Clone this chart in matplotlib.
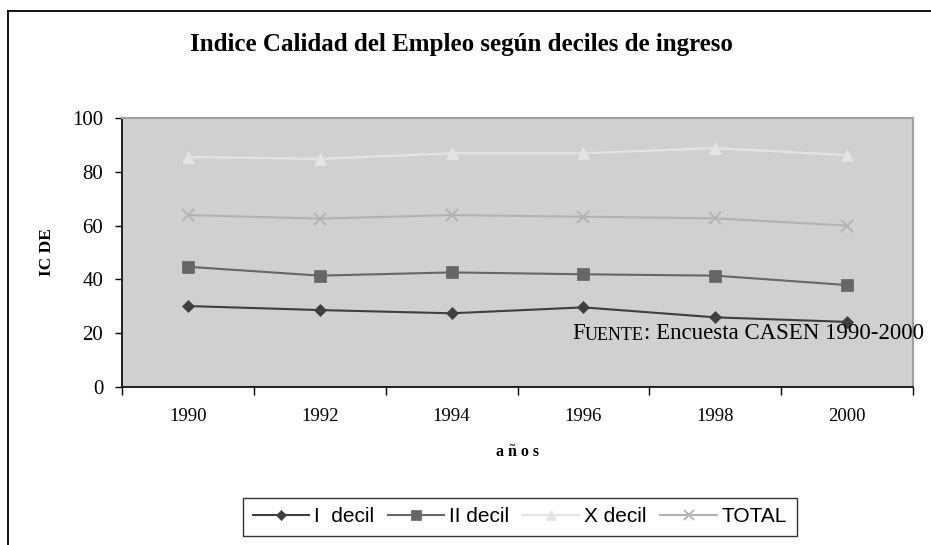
import matplotlib
matplotlib.use("Agg")
import matplotlib.pyplot as plt
from matplotlib.lines import Line2D

# === Data ===
years = ["1990", "1992", "1994", "1996", "1998", "2000"]
decil_1 = [30.1, 28.6, 27.4, 29.6, 25.9, 24.2]
decil_2 = [44.7, 41.4, 42.6, 41.9, 41.4, 37.9]
decil_10 = [85.5, 84.8, 86.9, 86.9, 88.8, 86.2]
total = [63.9, 62.6, 63.9, 63.3, 62.7, 60.0]
series_names = ["I  decil", "II decil", "X decil", "TOTAL"]

serif = "Liberation Serif"
sans = "Liberation Sans"

fig = plt.figure(figsize=(9.31, 5.45), dpi=100)
fig.patch.set_facecolor("white")

# outer chart frame (only left and top edges fall inside the picture)
fig.add_artist(Line2D([8 / 931, 8 / 931], [0, 1 - 10.5 / 545], transform=fig.transFigure,
                      color="black", lw=1.3))
fig.add_artist(Line2D([8 / 931, 1], [1 - 10.5 / 545, 1 - 10.5 / 545], transform=fig.transFigure,
                      color="black", lw=1.3))

ax = fig.add_axes([122 / 931, 1 - 387 / 545, (913 - 122) / 931, (387 - 118) / 545])
ax.set_facecolor("#d0d0d0")

x = list(range(len(years)))
styles = [
    (decil_1, "#3f3f3f", "D", 6.5),
    (decil_2, "#666666", "s", 8.5),
    (decil_10, "#e4e4e4", "^", 9),
    (total, "#b2b2b2", "x", 9),
]
handles = []
for (vals, col, mk, ms), name in zip(styles, series_names):
    ln, = ax.plot(x, vals, color=col, lw=1.5, marker=mk, ms=ms,
                  markerfacecolor=col, markeredgecolor=col, mew=1.3 if mk == "x" else 0.5,
                  label=name, clip_on=False)
    handles.append(ln)

ax.set_xlim(-0.5, len(years) - 0.5)
ax.set_ylim(0, 100)
ax.set_yticks([0, 20, 40, 60, 80, 100])
ax.set_xticks(x)
ax.set_xticklabels(years, fontfamily=serif, fontsize=13.5)
ax.set_xticks([i - 0.5 for i in range(len(years) + 1)], minor=True)
ax.tick_params(axis="x", which="major", length=0, pad=15)
ax.tick_params(axis="x", which="minor", length=6, width=1, direction="out", color="black")
ax.tick_params(axis="y", length=5, width=1, direction="out", pad=8.5, labelsize=15)
for lab in ax.get_yticklabels():
    lab.set_fontfamily(serif)

for side in ["left", "bottom"]:
    ax.spines[side].set_color("black")
    ax.spines[side].set_linewidth(1.2)
for side in ["top", "right"]:
    ax.spines[side].set_color("#a0a0a0")
    ax.spines[side].set_linewidth(1.5)

ax.set_ylabel("IC DE", fontfamily=serif, fontsize=12.5, fontweight="bold", labelpad=12)
ax.set_xlabel("a ñ o s", fontfamily=serif, fontsize=11.5, fontweight="bold", labelpad=14)

fig.text(461 / 931, 1 - 45 / 545, "Indice Calidad del Empleo según deciles de ingreso",
         ha="center", va="center", fontfamily=serif, fontsize=18, fontweight="bold")

# source note with small caps
t1 = fig.text(572 / 931, 1 - 339 / 545, "F", fontfamily=serif, fontsize=16.5, va="baseline")
t2 = ax.annotate("UENTE", xy=(1, 0), xycoords=t1, va="bottom", ha="left",
                 fontfamily=serif, fontsize=13)
ax.annotate(": Encuesta CASEN 1990-2000", xy=(1, 0), xycoords=t2, va="bottom", ha="left",
            fontfamily=serif, fontsize=16.5)

leg = fig.legend(handles=handles, loc="center", bbox_to_anchor=(520 / 931, 1 - 517 / 545),
                 ncol=4, frameon=True, fancybox=False, edgecolor="black",
                 prop={"family": sans, "size": 15}, handlelength=2.7, handletextpad=0.25,
                 columnspacing=0.65, borderpad=0.45, markerscale=0.85)
leg.get_frame().set_linewidth(1.0)

fig.savefig("out.png", dpi=100)
